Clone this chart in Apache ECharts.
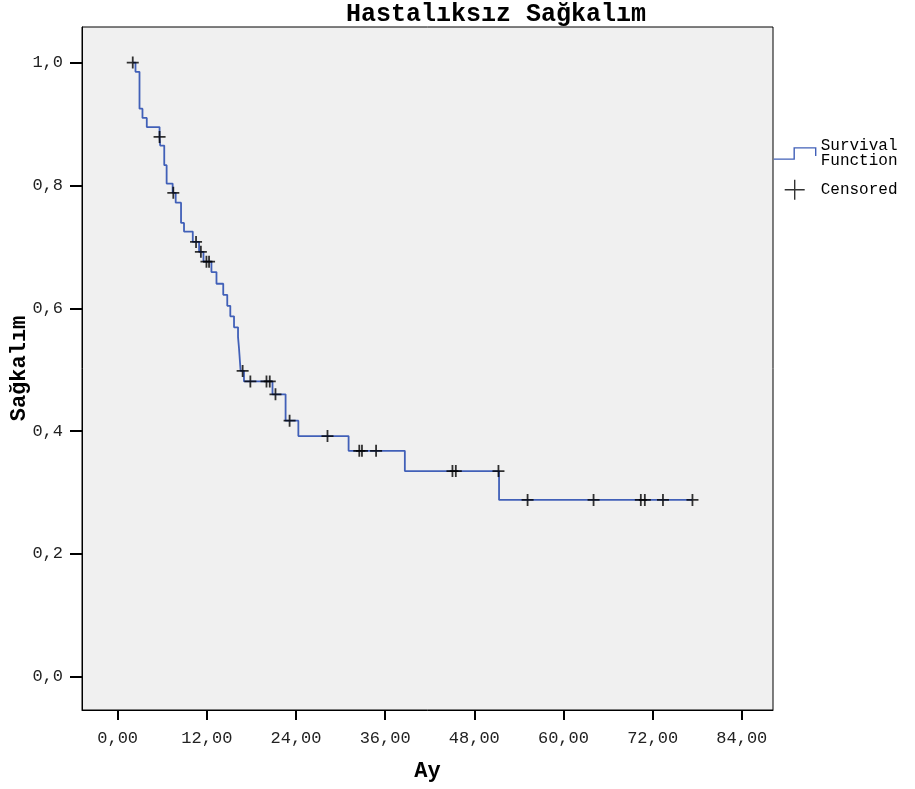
<!DOCTYPE html>
<html>
<head>
<meta charset="utf-8">
<script src="https://cdn.jsdelivr.net/npm/echarts@6/dist/echarts.min.js"></script>
<style>
  html, body { margin: 0; padding: 0; background: #fff; }
  #main { width: 915px; height: 789px; }
</style>
</head>
<body>
<div id="main"></div>
<script>
// Kaplan-Meier steps (time in months, survival after the step)
var stepTimes = [2.03, 2.40, 2.94, 3.34, 3.92, 5.64, 5.72, 6.27, 6.59, 7.40, 7.81, 8.53, 8.93,
  10.11, 10.96, 11.55, 12.62, 13.30, 14.21, 14.75, 15.16, 15.66, 16.20, 16.33, 16.55, 17.00,
  20.84, 22.60, 24.32, 31.08, 38.65, 51.33, 77.36];
var stepSurv = [1.000, 0.985, 0.925, 0.910, 0.895, 0.879, 0.865, 0.833, 0.803, 0.788, 0.772, 0.739, 0.725,
  0.708, 0.692, 0.676, 0.659, 0.640, 0.622, 0.604, 0.587, 0.569, 0.553, 0.535, 0.498, 0.481,
  0.460, 0.417, 0.392, 0.368, 0.335, 0.288, 0.288];

// censored cases
var censorTimes = [2.03, 5.64, 7.49, 10.55, 11.20, 11.95, 12.30, 16.82, 17.86, 20.03, 20.47, 21.24,
  23.14, 28.24, 32.52, 32.88, 34.78, 45.06, 45.51, 51.25, 55.17, 64.05, 70.41, 70.95, 73.39, 77.36];
var censorSurv = [1.000, 0.879, 0.788, 0.708, 0.692, 0.676, 0.676, 0.498, 0.481, 0.481, 0.481, 0.460,
  0.417, 0.392, 0.368, 0.368, 0.368, 0.335, 0.335, 0.335, 0.288, 0.288, 0.288, 0.288, 0.288, 0.288];

var xTicks = [0, 12, 24, 36, 48, 60, 72, 84];
var yTicks = [0, 0.2, 0.4, 0.6, 0.8, 1.0];

var MONO = '"Liberation Mono", "DejaVu Sans Mono", monospace';
var LINE_COLOR = '#4160b8';
var PLUS = 'path://M10,0 L10,20 M0,10 L20,10';

function zip(a, b) {
  return a.map(function (v, i) { return [v, b[i]]; });
}

var chart = echarts.init(document.getElementById('main'), null, {renderer: 'canvas'});
chart.setOption({
  animation: false,
  backgroundColor: '#fff',
  title: {
    text: 'Hastalıksız Sağkalım',
    left: 346,
    top: 2,
    padding: 0,
    textStyle: {fontFamily: MONO, fontWeight: 'bold', fontSize: 25, color: '#000'}
  },
  grid: {
    left: 82, right: 142, top: 27, bottom: 79,
    containLabel: false,
    outerBoundsMode: 'none',
    show: true,
    backgroundColor: '#f0f0f0',
    borderColor: '#000',
    borderWidth: 1
  },
  legend: {
    orient: 'vertical',
    left: 773,
    top: 138,
    padding: 0,
    itemWidth: 42,
    itemHeight: 20,
    itemGap: 10,
    symbolKeepAspect: true,
    textStyle: {fontFamily: MONO, fontSize: 16, color: '#000', lineHeight: 15},
    formatter: function (name) {
      return name === 'Survival Function' ? 'Survival\nFunction' : name;
    },
    data: [
      {
        name: 'Survival Function',
        icon: 'path://M0,11 L20,11 L20,0 L41,0 L41,8',
        itemStyle: {color: 'transparent', borderColor: LINE_COLOR, borderWidth: 1.4}
      },
      {
        name: 'Censored',
        icon: PLUS,
        itemStyle: {color: 'transparent', borderColor: '#000', borderWidth: 1.4}
      }
    ]
  },
  xAxis: {
    type: 'value',
    min: -4.8,
    max: 88.2,
    name: 'Ay',
    nameLocation: 'middle',
    nameGap: 50,
    nameTextStyle: {fontFamily: MONO, fontWeight: 'bold', fontSize: 22, color: '#000'},
    splitLine: {show: false},
    axisLine: {show: true, onZero: false, lineStyle: {color: '#000', width: 1}},
    axisTick: {show: true, customValues: xTicks, length: 10, lineStyle: {color: '#000', width: 2}},
    axisLabel: {
      customValues: xTicks,
      margin: 20,
      fontFamily: MONO,
      fontSize: 17,
      color: '#222',
      formatter: function (v) { return v.toFixed(2).replace('.', ','); }
    }
  },
  yAxis: {
    type: 'value',
    min: -0.054,
    max: 1.058,
    name: 'Sağkalım',
    nameLocation: 'middle',
    nameGap: 52,
    nameMoveOverlap: false,
    nameTextStyle: {fontFamily: MONO, fontWeight: 'bold', fontSize: 22, color: '#000'},
    splitLine: {show: false},
    axisLine: {show: true, onZero: false, lineStyle: {color: '#000', width: 1}},
    axisTick: {show: true, customValues: yTicks, length: 12, lineStyle: {color: '#000', width: 2}},
    axisLabel: {
      customValues: yTicks,
      margin: 19,
      fontFamily: MONO,
      fontSize: 17,
      color: '#222',
      formatter: function (v) { return v.toFixed(1).replace('.', ','); }
    }
  },
  series: [
    {
      name: 'Survival Function',
      type: 'line',
      step: 'end',
      showSymbol: false,
      symbol: 'none',
      data: zip(stepTimes, stepSurv),
      lineStyle: {color: LINE_COLOR, width: 1.8},
      itemStyle: {color: LINE_COLOR},
      z: 2
    },
    {
      name: 'Censored',
      type: 'scatter',
      symbol: PLUS,
      symbolSize: 12,
      data: zip(censorTimes, censorSurv),
      itemStyle: {color: 'transparent', borderColor: '#000', borderWidth: 1.8},
      z: 3
    }
  ]
});
</script>
</body>
</html>
